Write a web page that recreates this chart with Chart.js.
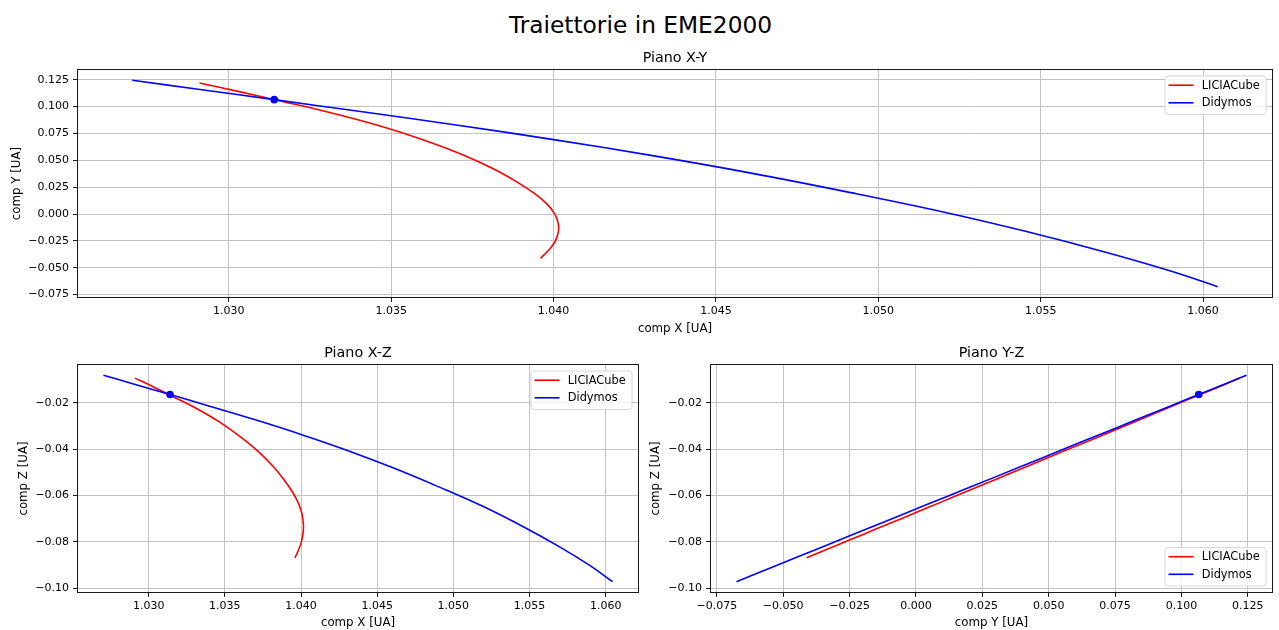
<!DOCTYPE html>
<html><head><meta charset="utf-8">
<script src="https://cdn.jsdelivr.net/npm/chart.js@4.4.0/dist/chart.umd.min.js"></script>
<style>
html,body{margin:0;padding:0;background:#fff;}
#wrap{position:relative;width:1279px;height:630px;overflow:hidden;background:#fff;}
canvas{position:absolute;left:0;top:0;}
#sup{position:absolute;left:0;top:10px;width:1281px;text-align:center;font-family:'DejaVu Sans',sans-serif;font-size:23.3px;line-height:30px;color:#000;}
</style></head><body>
<div id="wrap">
<div id="sup">Traiettorie in EME2000</div>
<canvas id="c1" width="1279" height="630"></canvas>
<canvas id="c2" width="1279" height="630"></canvas>
<canvas id="c3" width="1279" height="630"></canvas>
</div>
<script>
// ---- data ----
const licX = [1.0291, 1.03032, 1.03145, 1.03305, 1.03466, 1.03609, 1.03722, 1.03816, 1.03887, 1.03942, 1.03981, 1.04004, 1.04013, 1.04016, 1.04013, 1.04004, 1.03987, 1.0396];
const licY = [0.122, 0.114, 0.1062, 0.095, 0.082, 0.068, 0.055, 0.042, 0.030, 0.019, 0.009, 0.000, -0.007, -0.013, -0.019, -0.026, -0.033, -0.0412];
const licZ = [-0.0094, -0.0132, -0.0169, -0.0222, -0.0284, -0.0351, -0.0412, -0.0474, -0.0531, -0.0583, -0.0631, -0.0674, -0.0707, -0.0735, -0.0764, -0.0797, -0.0830, -0.0869];

const didX = [1.02703, 1.0290, 1.0314, 1.0340, 1.0370, 1.0400, 1.0430, 1.0460, 1.0490, 1.0520, 1.0545, 1.0570, 1.0590, 1.06045];
const didY = [0.1245, 0.1164, 0.1065, 0.0957, 0.0829, 0.0693, 0.0546, 0.0386, 0.0209, 0.0020, -0.0158, -0.0355, -0.0530, -0.0676];
const didZ = [-0.0082, -0.0119, -0.0165, -0.0215, -0.0274, -0.0337, -0.0405, -0.0480, -0.0562, -0.0649, -0.0732, -0.0823, -0.0904, -0.0972];

const impactX = [1.0314];
const impactY = [0.1065];
const impactZ = [-0.0165];

const seriesNames = ['LICIACube', 'Didymos'];

const xTicks = [1.030, 1.035, 1.040, 1.045, 1.050, 1.055, 1.060];
const xTickLabels = ['1.030', '1.035', '1.040', '1.045', '1.050', '1.055', '1.060'];
const yTicks = [-0.075, -0.050, -0.025, 0.000, 0.025, 0.050, 0.075, 0.100, 0.125];
const yTickLabels = ['\u22120.075', '\u22120.050', '\u22120.025', '0.000', '0.025', '0.050', '0.075', '0.100', '0.125'];
const zTicks = [-0.10, -0.08, -0.06, -0.04, -0.02];
const zTickLabels = ['\u22120.10', '\u22120.08', '\u22120.06', '\u22120.04', '\u22120.02'];

// ---- rendering ----
const FONT = "'DejaVu Sans', sans-serif";
Chart.defaults.font.family = FONT;
Chart.defaults.font.size = 11;
Chart.defaults.color = '#000';

const RED = '#ff0000', BLUE = '#0000ff';

function lims(...arrs) {
  const all = [].concat(...arrs);
  const mn = Math.min(...all), mx = Math.max(...all);
  const p = (mx - mn) * 0.05;
  return [mn - p, mx + p];
}
function pts(a, b) { return a.map((v, i) => ({x: v, y: b[i]})); }

const decor = {
  id: 'decor',
  afterDatasetsDraw(chart, args, opts) {
    const {ctx, chartArea: a} = chart;
    ctx.save();
    const L = Math.round(a.left), T = Math.round(a.top), R = Math.round(a.right), B = Math.round(a.bottom);
    ctx.strokeStyle = '#1a1a1a'; ctx.lineWidth = 1;
    ctx.strokeRect(L - 0.5, T - 0.5, R - L + 1, B - T + 1);
    // subplot title
    ctx.fillStyle = '#000';
    ctx.font = "14.3px " + FONT;
    ctx.textAlign = 'center'; ctx.textBaseline = 'middle';
    ctx.fillText(opts.title, (a.left + a.right) / 2, a.top - 11.5);
    // legend
    const w = 101, h = 38.5, g = 6, r = 3;
    const x0 = a.right - g - w;
    const y0 = opts.legend === 'lower right' ? a.bottom - g - h : a.top + g;
    ctx.beginPath();
    ctx.moveTo(x0 + r, y0);
    ctx.lineTo(x0 + w - r, y0); ctx.arcTo(x0 + w, y0, x0 + w, y0 + r, r);
    ctx.lineTo(x0 + w, y0 + h - r); ctx.arcTo(x0 + w, y0 + h, x0 + w - r, y0 + h, r);
    ctx.lineTo(x0 + r, y0 + h); ctx.arcTo(x0, y0 + h, x0, y0 + h - r, r);
    ctx.lineTo(x0, y0 + r); ctx.arcTo(x0, y0, x0 + r, y0, r);
    ctx.closePath();
    ctx.fillStyle = 'rgba(255,255,255,0.8)'; ctx.fill();
    ctx.strokeStyle = '#d6d6d6'; ctx.lineWidth = 1; ctx.stroke();
    const cols = [RED, BLUE];
    ctx.font = "11.4px " + FONT; ctx.textAlign = 'left'; ctx.textBaseline = 'middle';
    seriesNames.forEach((n, i) => {
      const yy = y0 + 9.2 + i * 17.6;
      ctx.strokeStyle = cols[i]; ctx.lineWidth = 1.6;
      ctx.beginPath(); ctx.moveTo(x0 + 3.5, yy); ctx.lineTo(x0 + 28.5, yy); ctx.stroke();
      ctx.fillStyle = '#000';
      ctx.fillText(n, x0 + 36.7, yy + 0.5);
    });
    ctx.restore();
  }
};

function axis(ticksArr, labelsArr, range, title, fitProp, fitVal) {
  return {
    type: 'linear',
    min: range[0], max: range[1],
    title: {display: true, text: title, padding: 0, font: {size: 11.8}, color: '#000'},
    grid: {color: '#c4c4c4', lineWidth: 1, tickLength: 5, tickColor: '#1a1a1a', drawTicks: true},
    border: {display: false},
    ticks: {autoSkip: false, maxRotation: 0, minRotation: 0, padding: fitProp === 'height' ? 3 : 4,
      color: '#000', font: {size: 11},
      callback: (v, i) => labelsArr[i]},
    afterBuildTicks: s => { s.ticks = ticksArr.map(v => ({value: v})); },
    afterFit: s => { s[fitProp] = fitVal; }
  };
}

function make(id, cfg) {
  new Chart(document.getElementById(id), {
    type: 'scatter',
    data: {datasets: [
      {label: 'impact', data: pts(cfg.pX, cfg.pY), showLine: false, pointRadius: 3.8, pointBackgroundColor: BLUE, pointBorderWidth: 0, order: 0},
      {label: seriesNames[1], data: pts(cfg.bX, cfg.bY), showLine: true, borderColor: BLUE, borderWidth: 1.6, pointRadius: 0, tension: 0.4, fill: false, order: 1},
      {label: seriesNames[0], data: pts(cfg.rX, cfg.rY), showLine: true, borderColor: RED, borderWidth: 1.6, pointRadius: 0, tension: 0.4, fill: false, order: 2}
    ]},
    options: {
      responsive: false, animation: false, devicePixelRatio: 1,
      layout: {padding: cfg.pad},
      scales: {
        x: axis(cfg.xt, cfg.xl, cfg.xr, cfg.xTitle, 'height', cfg.H),
        y: axis(cfg.yt, cfg.yl, cfg.yr, cfg.yTitle, 'width', cfg.W)
      },
      plugins: {legend: {display: false}, tooltip: {enabled: false}, title: {display: false},
        decor: {title: cfg.title, legend: cfg.legend}}
    },
    plugins: [decor]
  });
}

const xr = lims(licX, didX), yr = lims(licY, didY), zr = lims(licZ, didZ);

make('c1', {title: 'Piano X-Y', legend: 'upper right',
  rX: licX, rY: licY, bX: didX, bY: didY, pX: impactX, pY: impactY,
  xt: xTicks, xl: xTickLabels, xr: xr, yt: yTicks, yl: yTickLabels, yr: yr,
  xTitle: 'comp X [UA]', yTitle: 'comp Y [UA]',
  pad: {left: 9.5, right: 7, top: 70, bottom: 294.2}, W: 68.5, H: 38.8});

make('c2', {title: 'Piano X-Z', legend: 'upper right',
  rX: licX, rY: licZ, bX: didX, bY: didZ, pX: impactX, pY: impactZ,
  xt: xTicks, xl: xTickLabels, xr: xr, yt: zTicks, yl: zTickLabels, yr: zr,
  xTitle: 'comp X [UA]', yTitle: 'comp Z [UA]',
  pad: {left: 17.2, right: 641, top: 365, bottom: 0.3}, W: 60.8, H: 37.7});

make('c3', {title: 'Piano Y-Z', legend: 'lower right',
  rX: licY, rY: licZ, bX: didY, bY: didZ, pX: impactY, pY: impactZ,
  xt: yTicks, xl: yTickLabels, xr: yr, yt: zTicks, yl: zTickLabels, yr: zr,
  xTitle: 'comp Y [UA]', yTitle: 'comp Z [UA]',
  pad: {left: 648.9, right: 7, top: 365, bottom: 0.3}, W: 62.1, H: 37.7});
</script>
</body></html>
